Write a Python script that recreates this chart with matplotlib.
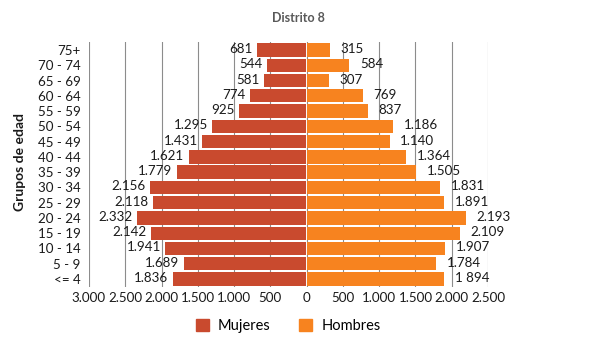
import matplotlib
matplotlib.use("Agg")
import matplotlib.pyplot as plt
from matplotlib.patches import Patch
import matplotlib.transforms as mtransforms
import numpy as np

plt.rcParams['font.family'] = ['Lato', 'DejaVu Sans']

groups = ["<= 4", "5 - 9", "10 - 14", "15 - 19", "20 - 24", "25 - 29", "30 - 34",
          "35 - 39", "40 - 44", "45 - 49", "50 - 54", "55 - 59", "60 - 64",
          "65 - 69", "70 - 74", "75+"]
mujeres = [1836, 1689, 1941, 2142, 2332, 2118, 2156, 1779, 1621, 1431, 1295,
           925, 774, 581, 544, 681]
hombres = [1894, 1784, 1907, 2109, 2193, 1891, 1831, 1505, 1364, 1140, 1186,
           837, 769, 307, 584, 315]
hombres_labels = ["1 894", "1.784", "1.907", "2.109", "2.193", "1.891", "1.831",
                  "1.505", "1.364", "1.140", "1.186", "837", "769", "307", "584", "315"]
xticks = [-3000, -2500, -2000, -1500, -1000, -500, 0, 500, 1000, 1500, 2000, 2500]
xticklabels = ["3.000", "2.500", "2.000", "1.500", "1.000", "500", "0",
               "500", "1.000", "1.500", "2.000", "2.500"]

def fmt(v):
    return f"{v:,}".replace(",", ".")

c_muj = "#C94A2E"
c_hom = "#F7831F"
fs = 9.6

fig = plt.figure(figsize=(6.0, 3.47), dpi=100)
ax = fig.add_axes([89/600, 1 - 286.6/347, (488 - 89)/600, (286.6 - 42.4)/347])

y = np.arange(len(groups))
ax.barh(y, [-m for m in mujeres], height=0.87, color=c_muj, left=-6, zorder=2)
ax.barh(y, hombres, height=0.87, color=c_hom, left=6, zorder=2)

ax.set_xlim(-3000, 2500)
ax.set_ylim(-0.5, len(groups) - 0.5)
ax.set_xticks(xticks)
ax.set_xticklabels(xticklabels, fontsize=fs, color="#1a1a1a")
ax.set_yticks(y)
ax.set_yticklabels(groups, fontsize=fs, color="#1a1a1a")
ax.tick_params(axis='both', length=0, pad=4)
ax.tick_params(axis='y', pad=6)
for s in ax.spines.values():
    s.set_visible(False)
for xt in xticks:
    ax.axvline(xt, color="#8c8c8c", lw=0.8, zorder=1)

off_l = mtransforms.offset_copy(ax.transData, fig=fig, x=-5, y=1, units='dots')
off_r = mtransforms.offset_copy(ax.transData, fig=fig, x=11, y=1, units='dots')
for i in range(len(groups)):
    ax.text(-mujeres[i], y[i], fmt(mujeres[i]), ha='right', va='center',
            fontsize=fs, color="#1a1a1a", transform=off_l, zorder=3)
    ax.text(hombres[i], y[i], hombres_labels[i], ha='left', va='center',
            fontsize=fs, color="#1a1a1a", transform=off_r, zorder=3)

fig.text(298/600, 1 - 18/347, "Distrito 8", ha='center', va='center',
         fontsize=9, fontweight='bold', color="#595959")
fig.text(20/600, 1 - 162/347, "Grupos de edad", ha='center', va='center',
         rotation=90, fontsize=10, fontweight='bold', color="#1a1a1a")

handles = [Patch(color=c_muj, label="Mujeres"), Patch(color=c_hom, label="Hombres")]
fig.legend(handles=handles, loc='center', bbox_to_anchor=(288/600, 1 - 325.7/347),
           ncol=2, frameon=False, fontsize=10.5, handlelength=0.9, handleheight=0.9,
           handletextpad=0.6, columnspacing=2.0)

fig.savefig("out.png", dpi=100)
